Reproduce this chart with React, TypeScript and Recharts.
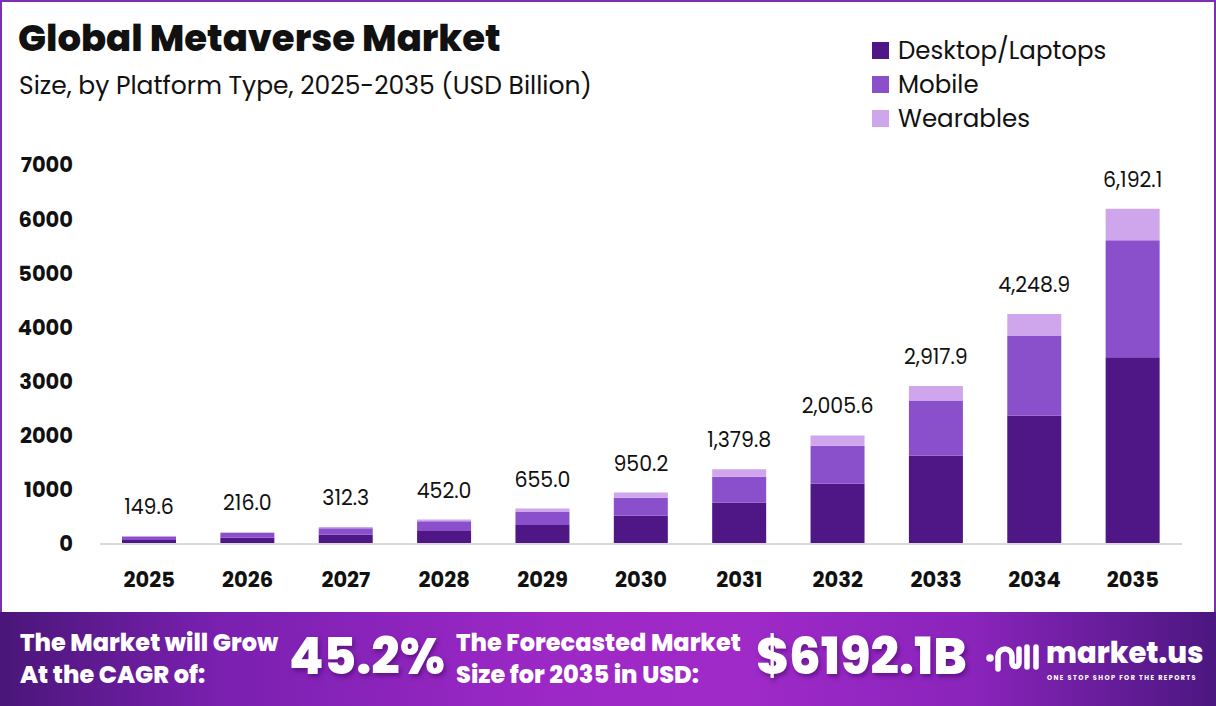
import { BarChart, Bar, XAxis, YAxis, LabelList } from "recharts";

const years = ["2025", "2026", "2027", "2028", "2029", "2030", "2031", "2032", "2033", "2034", "2035"];
const desktop = [74.0, 117.0, 172.0, 242.0, 350.0, 520.0, 765.0, 1111.0, 1630.0, 2370.0, 3450.0];
const mobile = [65.0, 84.0, 119.3, 178.0, 240.0, 333.0, 476.0, 704.0, 1019.0, 1482.0, 2161.0];
const wearables = [10.6, 15.0, 21.0, 32.0, 65.0, 97.2, 138.8, 190.6, 268.9, 396.9, 581.1];
const totals = [149.6, 216.0, 312.3, 452.0, 655.0, 950.2, 1379.8, 2005.6, 2917.9, 4248.9, 6192.1];
const yTicks = [0, 1000, 2000, 3000, 4000, 5000, 6000, 7000];

const data = years.map((year, i) => ({
  year,
  desktop: desktop[i],
  mobile: mobile[i],
  wearables: wearables[i],
  total: totals[i],
}));

const FONT = "Poppins, 'Open Sans', Inter, sans-serif";
const DARK = "#4e1785";
const MID = "#8a4fcb";
const LIGHT = "#cfa6ec";

const legend = [
  { name: "Desktop/Laptops", color: DARK },
  { name: "Mobile", color: MID },
  { name: "Wearables", color: LIGHT },
];

const fmt = (v: number) =>
  Number(v).toLocaleString("en-US", { minimumFractionDigits: 1, maximumFractionDigits: 1 });

export default function App() {
  return (
    <div
      style={{
        position: "absolute",
        left: 0,
        top: 0,
        width: 1216,
        height: 706,
        background: "#fff",
        fontFamily: FONT,
        overflow: "hidden",
      }}
    >
      {/* frame */}
      <div
        style={{
          position: "absolute",
          left: 0,
          top: 0,
          width: 1216,
          height: 706,
          boxSizing: "border-box",
          border: "2px solid #7d2fb3",
        }}
      />
      <div style={{ position: "absolute", left: 18, top: 13, fontSize: 37, fontWeight: 800, color: "#111", lineHeight: "50px" }}>
        Global Metaverse Market
      </div>
      <div style={{ position: "absolute", left: 19, top: 69, fontSize: 25, color: "#111", lineHeight: "34px" }}>
        Size, by Platform Type, 2025-2035 (USD Billion)
      </div>

      <div style={{ position: "absolute", left: 872, top: 33 }}>
        {legend.map((l) => (
          <div key={l.name} style={{ display: "flex", alignItems: "center", height: 34 }}>
            <div style={{ width: 17, height: 17, background: l.color, marginRight: 9 }} />
            <span style={{ fontSize: 24.5, color: "#111" }}>{l.name}</span>
          </div>
        ))}
      </div>

      <div style={{ position: "absolute", left: 0, top: 0 }}>
        <BarChart
          width={1216}
          height={612}
          data={data}
          margin={{ top: 165, right: 34, left: 20, bottom: 28 }}
          barCategoryGap={22}
        >
          <XAxis
            dataKey="year"
            height={40}
            tickLine={false}
            tickSize={0}
            tickMargin={28}
            axisLine={{ stroke: "#d9d9d9", strokeWidth: 2 }}
            tick={{ fill: "#111", fontSize: 21, fontWeight: 700, fontFamily: FONT }}
          />
          <YAxis
            width={80}
            domain={[0, 7000]}
            ticks={yTicks}
            interval={0}
            axisLine={false}
            tickLine={false}
            tickSize={0}
            tickMargin={27}
            tick={{ fill: "#111", fontSize: 21, fontWeight: 700, fontFamily: FONT }}
          />
          <Bar dataKey="desktop" stackId="a" fill={DARK} isAnimationActive={false} />
          <Bar dataKey="mobile" stackId="a" fill={MID} isAnimationActive={false} />
          <Bar dataKey="wearables" stackId="a" fill={LIGHT} isAnimationActive={false}>
            <LabelList
              dataKey="total"
              position="top"
              offset={22}
              formatter={(v: any) => fmt(v)}
              style={{ fill: "#111", fontSize: 20.5, fontFamily: FONT }}
            />
          </Bar>
        </BarChart>
      </div>

      {/* bottom banner */}
      <div
        style={{
          position: "absolute",
          left: 0,
          top: 612,
          width: 1216,
          height: 94,
          background:
            "linear-gradient(90deg, #4a1679 0%, #7a20b0 18%, #9c28c6 45%, #a02ac8 60%, #8a24bb 80%, #4b1780 100%)",
          color: "#fff",
        }}
      >
        <div style={{ position: "absolute", left: 20, top: 15, fontSize: 24, fontWeight: 800, lineHeight: "32px" }}>
          The Market will Grow
          <br />
          At the CAGR of:
        </div>
        <div
          style={{
            position: "absolute",
            left: 289,
            top: 13,
            fontSize: 50,
            fontWeight: 800,
            lineHeight: "64px",
            textShadow: "2px 3px 4px rgba(60,0,90,0.5)",
          }}
        >
          45.2%
        </div>
        <div style={{ position: "absolute", left: 456, top: 15, fontSize: 24, fontWeight: 800, lineHeight: "32px" }}>
          The Forecasted Market
          <br />
          Size for 2035 in USD:
        </div>
        <div
          style={{
            position: "absolute",
            left: 756,
            top: 13,
            fontSize: 50,
            fontWeight: 800,
            lineHeight: "64px",
            textShadow: "2px 3px 4px rgba(60,0,90,0.5)",
          }}
        >
          $6192.1B
        </div>
        <svg style={{ position: "absolute", left: 985, top: 27 }} width={56} height={38} viewBox="0 0 56 38">
          <circle cx={5} cy={19} r={3.8} fill="#fff" />
          <path
            d="M13 30 V17 a7 7 0 0 1 14 0 V24 a3.5 3.5 0 0 0 7 0 V10"
            stroke="#fff"
            strokeWidth={5.5}
            fill="none"
            strokeLinecap="round"
          />
          <path d="M42 8 V28 M51 8 V28" stroke="#fff" strokeWidth={5.5} strokeLinecap="round" />
        </svg>
        <div style={{ position: "absolute", left: 1046, top: 23, fontSize: 29, fontWeight: 800, lineHeight: "36px" }}>
          market.us
        </div>
        <div
          style={{
            position: "absolute",
            left: 1047,
            top: 61,
            fontSize: 6.5,
            fontWeight: 700,
            letterSpacing: 1.4,
            whiteSpace: "nowrap",
          }}
        >
          ONE STOP SHOP FOR THE REPORTS
        </div>
      </div>
    </div>
  );
}
